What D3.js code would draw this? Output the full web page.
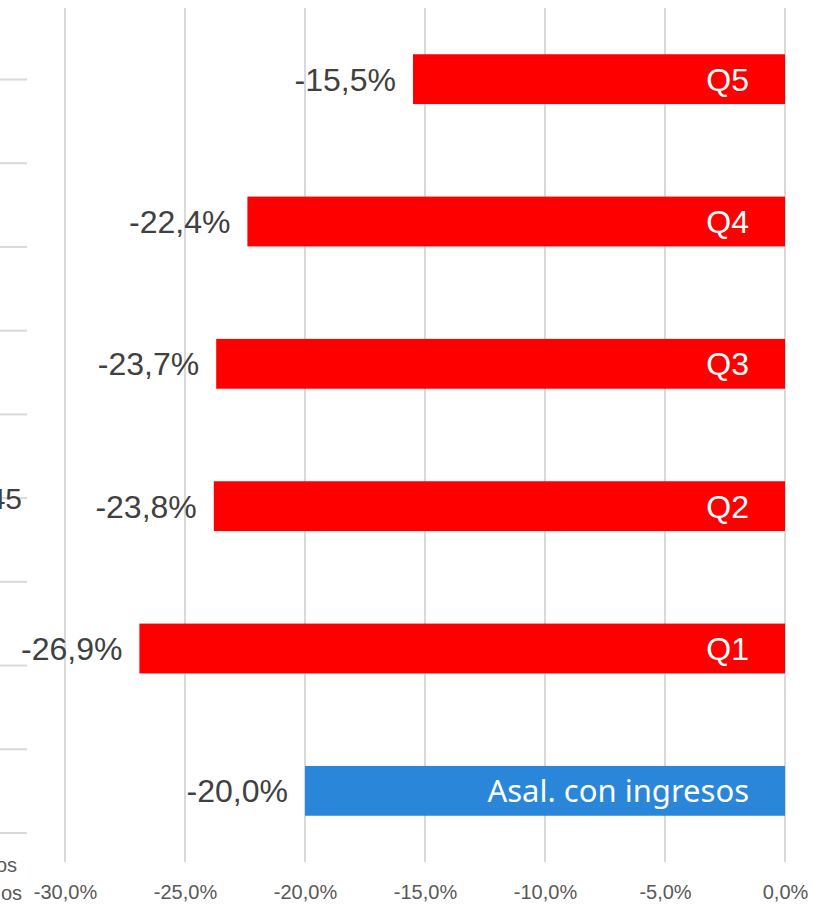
<!DOCTYPE html>
<html>
<head>
<meta charset="utf-8">
<script src="https://cdn.jsdelivr.net/npm/d3@7"></script>
<style>
  html, body { margin: 0; padding: 0; background: #fff; }
  svg { display: block; }
</style>
</head>
<body>
<svg id="chart" width="813" height="904"></svg>
<script>
// Variation by income quintile (share), top to bottom
const categories = ["Q5", "Q4", "Q3", "Q2", "Q1", "Asal. con ingresos"];
const values = [-15.5, -22.4, -23.7, -23.8, -26.9, -20.0];
const barColors = ["#ff0000", "#ff0000", "#ff0000", "#ff0000", "#ff0000", "#2986d9"];
const xTicks = [-30, -25, -20, -15, -10, -5, 0];

// Neighbouring panel on the left edge (only its tail is in view)
const sideTicks = d3.range(10);
const sideLabels = ["45"];
const sideAxisLabels = ["os", "os"];

const svg = d3.select("#chart");
const W = 813, H = 904;
const plot = { left: 65, right: 785, top: 8, bottom: 862 };

const fmt = v => d3.format(".1f")(v).replace(".", ",").replace("−", "-") + "%";

const x = d3.scaleLinear().domain([-30, 0]).range([plot.left, plot.right]);
const y = d3.scaleBand().domain(categories).range([plot.top, plot.bottom]).paddingInner(0.65).paddingOuter(0.325);

// vertical gridlines
svg.append("g").selectAll("line").data(xTicks).join("line")
  .attr("x1", d => x(d)).attr("x2", d => x(d))
  .attr("y1", plot.top).attr("y2", plot.bottom)
  .attr("stroke", "#d9d9d9").attr("stroke-width", 2);

// x axis labels
const xAxis = d3.axisBottom(x).tickValues(xTicks).tickSize(0).tickPadding(0).tickFormat(fmt);
const gx = svg.append("g").attr("transform", `translate(0,${plot.bottom + 23})`).call(xAxis);
gx.select(".domain").remove();
gx.selectAll("text")
  .attr("font-family", "Liberation Sans, Arial, sans-serif")
  .attr("font-size", 20).attr("fill", "#595959");

// bars
svg.append("g").selectAll("rect").data(categories).join("rect")
  .attr("x", (d, i) => x(values[i]))
  .attr("y", d => y(d))
  .attr("width", (d, i) => x(0) - x(values[i]))
  .attr("height", y.bandwidth())
  .attr("fill", (d, i) => barColors[i]);

// value labels left of bars
svg.append("g").selectAll("text").data(categories).join("text")
  .attr("x", (d, i) => x(values[i]) - 17)
  .attr("y", d => y(d) + y.bandwidth() / 2)
  .attr("dy", "0.36em")
  .attr("text-anchor", "end")
  .attr("font-family", "Liberation Sans, Arial, sans-serif")
  .attr("font-size", 32).attr("fill", "#404040")
  .text((d, i) => fmt(values[i]));

// category labels inside bars
svg.append("g").selectAll("text").data(categories).join("text")
  .attr("x", x(0) - 36)
  .attr("y", d => y(d) + y.bandwidth() / 2)
  .attr("dy", "0.36em")
  .attr("text-anchor", "end")
  .attr("font-family", (d, i) => i === categories.length - 1 ? "Noto Sans, sans-serif" : "Liberation Sans, Arial, sans-serif")
  .attr("font-size", (d, i) => i === categories.length - 1 ? 31 : 32)
  .attr("fill", "#ffffff")
  .text(d => d);

// left panel tail: tick marks and clipped labels
const side = d3.scalePoint().domain(sideTicks).range([79.5, 833]);
svg.append("g").selectAll("line").data(sideTicks).join("line")
  .attr("x1", 0).attr("x2", 27)
  .attr("y1", d => side(d)).attr("y2", d => side(d))
  .attr("stroke", "#d9d9d9").attr("stroke-width", 2);

svg.append("text")
  .attr("x", 22).attr("y", 498).attr("dy", "0.36em")
  .attr("text-anchor", "end")
  .attr("font-family", "Liberation Sans, Arial, sans-serif")
  .attr("font-size", 30).attr("fill", "#404040")
  .text(sideLabels[0]);

svg.append("g").selectAll("text").data(sideAxisLabels).join("text")
  .attr("x", (d, i) => i === 0 ? 17 : 22)
  .attr("y", (d, i) => i === 0 ? 872 : 900)
  .attr("text-anchor", "end")
  .attr("font-family", "Liberation Sans, Arial, sans-serif")
  .attr("font-size", 20).attr("fill", "#595959")
  .text(d => d);
</script>
</body>
</html>
